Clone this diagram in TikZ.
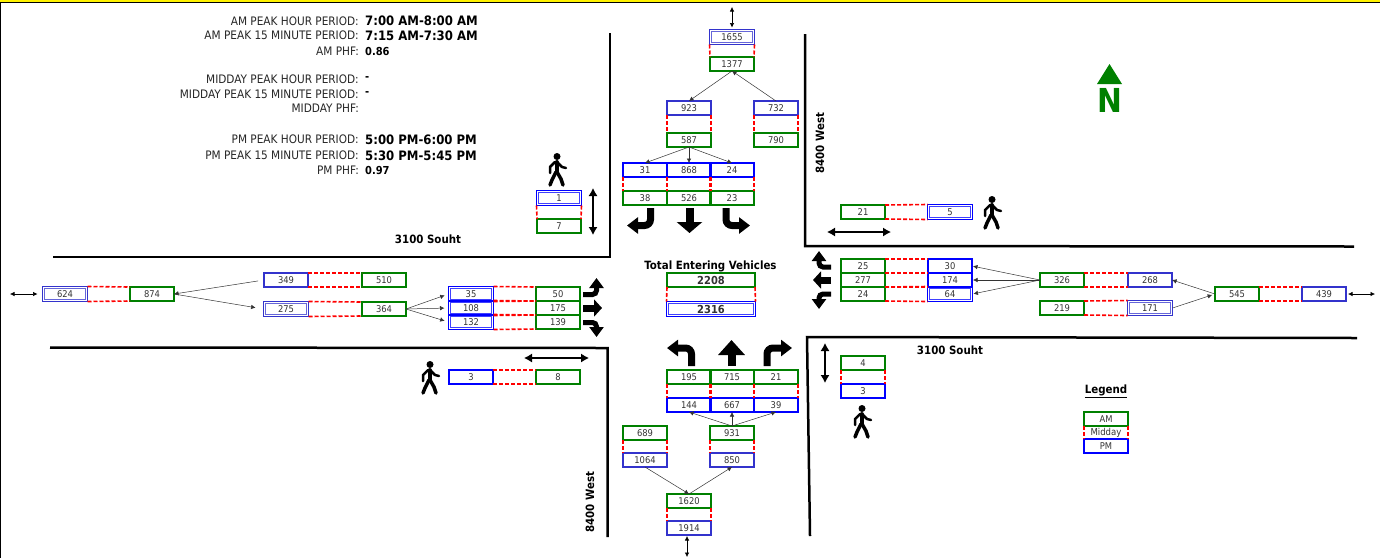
\documentclass[tikz,border=0pt]{standalone}
\usepackage{fontspec}
\setmainfont{DejaVu Sans Condensed}
\usetikzlibrary{arrows.meta}
\definecolor{amgreen}{RGB}{0,128,0}
\definecolor{pmblue}{RGB}{0,0,255}
\definecolor{pmslate}{RGB}{51,51,204}
\tikzset{
  cellbox/.style={rectangle,minimum width=44,minimum height=14,inner sep=0,outer sep=0,font=\fontsize{9.3}{10}\selectfont,text=black!80},
  amcell/.style={cellbox,draw=amgreen,line width=1.6},
  pmcell/.style={cellbox,draw=pmblue,line width=1.6},
  slatecell/.style={cellbox,draw=pmslate,line width=1.6},
  pmdouble/.style={cellbox,minimum width=45,minimum height=15,draw=pmblue,line width=1},
  slatedouble/.style={cellbox,minimum width=45,minimum height=15,draw=pmslate,line width=1},
  innerline/.style={draw=#1!75!white,line width=1},
  midlink/.style={draw=red,line width=1.6,dash pattern=on 4 off 2},
  road/.style={black,line width=2.5},
  flow/.style={black!80,line width=0.5,-{Latex[length=4.5,width=4.5]}},
  bothway/.style={black,line width=0.6,{Latex[length=4.5,width=4.5]}-{Latex[length=4.5,width=4.5]}},
  crossing/.style={black,line width=1.1,{Latex[length=8,width=9]}-{Latex[length=8,width=9]}},
  turn/.style={black,line width=7,rounded corners=6,-{Triangle[length=11,width=16]}},
  sideturn/.style={black,line width=5,rounded corners=4,-{Triangle[length=10,width=14]}},
  sbstraight/.style={black,line width=8,-{Triangle[length=11,width=25]}},
  nbstraight/.style={black,line width=8,-{Triangle[length=15,width=26]}},
  sidestraight/.style={black,line width=7,-{Triangle[length=8,width=17]}},
  labeltext/.style={anchor=east,inner sep=0,font=\fontsize{11.7}{13}\selectfont,text=black!85},
  timetext/.style={anchor=west,inner sep=0,font=\fontsize{13}{14}\selectfont\bfseries},
  phftext/.style={anchor=west,inner sep=0,font=\fontsize{11}{13}\selectfont\bfseries},
  streettext/.style={inner sep=0,font=\fontsize{11.4}{13}\selectfont\bfseries},
}
\begin{document}
\begin{tikzpicture}[x=1pt,y=-1pt]
\useasboundingbox (0,0) rectangle (1380,558);
% page edge
\fill[black] (0,2) rectangle (1380,3);
\fill[yellow] (0,0) rectangle (1380,2);
\fill[black] (0,3) rectangle (1,558);
% roads
\draw[road] (610,33)--(610,257)--(53,257);
\draw[road] (50,347.5)--(607.5,348)--(607.5,537);
\draw[road] (805,34)--(805,246)--(1354,246.5);
\draw[road] (810,536)--(807,337)--(1357,338);
% green cells
\foreach \name/\x/\y/\val in {
  northam/732/64/1377, nwam/689/140/587, neam/776/140/790,
  sbl/645/198/38, sbt/689/198/526, sbr/732/198/23, nwped/559/226/7,
  westam/152/294/874, ebin/384/280/510, ebout/384/309/364,
  ebl/558/294/50, ebt/558/308/175, ebr/558/322/139, swped/558/377/8,
  neped/863/212/21, wbr/863/266/25, wbt/863/280/277, wbl/863/294/24,
  wbout/1062/280/326, wbin/1062/308/219, eastam/1237/294/545,
  nbl/689/377/195, nbt/732/377/715, nbr/776/377/21,
  swam/645/433/689, seam/732/433/931, southam/689/501/1620,
  septam/863/363/4, legam/1106/419/AM}
  \node[amcell] (\name) at (\x,\y) {\val};
% blue cells
\foreach \name/\x/\y/\val in {
  sbl/645/170/31, sbt/689/170/868, sbr/732/170/24,
  nbl/689/405/144, nbt/732/405/667, nbr/776/405/39,
  wbr/950/266/30, wbt/950/280/174, septam/863/391/3, legam/1106/446/PM,
  swped/471/377/3}
  \node[pmcell] (\name pm) at (\x,\y) {\val};
\foreach \name/\x/\y/\val in {
  nw/689/108/923, ne/776/108/732, ebin/286/280/349,
  wbout/1150/280/268, east/1324/294/439,
  sw/645/460/1064, se/732/460/850, south/689/528/1914}
  \node[slatecell] (\name pm) at (\x,\y) {\val};
\foreach \name/\x/\y/\val in {
  nwped/559/198/1, ebl/471/294/35, ebt/471/308/108, ebr/471/322/132,
  neped/950/212/5, wbl/950/294/64}
  \node[pmdouble] (\name pm) at (\x,\y) {\val};
\foreach \name/\x/\y/\val in {
  north/732/37/1655, west/65/294/624, ebout/286/309/275, wbin/1150/308/171}
  \node[slatedouble] (\name pm) at (\x,\y) {\val};
% entering totals
\node[streettext] (totaltitle) at (710.5,266) {Total Entering Vehicles};
\node[amcell,minimum width=88,font=\fontsize{11}{12}\selectfont\bfseries] (totalam) at (711,280) {2208};
\node[pmdouble,minimum width=89,font=\fontsize{11}{12}\selectfont\bfseries] (totalpm) at (711,309) {2316};
% inner line of the double cells
\foreach \cell/\col in {nwpedpm/pmblue, eblpm/pmblue, ebtpm/pmblue, ebrpm/pmblue, nepedpm/pmblue, wblpm/pmblue, totalpm/pmblue,
  northpm/pmslate, westpm/pmslate, eboutpm/pmslate, wbinpm/pmslate}
  \draw[innerline=\col] ([xshift=2,yshift=2]\cell.south west) rectangle ([xshift=-2,yshift=-2]\cell.north east);
% midday links, side by side
\foreach \a/\b in {westpm/westam, ebinpm/ebin, eboutpm/ebout, eblpm/ebl, ebrpm/ebr, swpedpm/swped,
  neped/nepedpm, wbl/wblpm, wbout/wboutpm, wbin/wbinpm, eastam/eastpm, ebtpm/ebt, wbt/wbtpm, wbr/wbrpm} {
  \draw[midlink] (\a.north east)--(\b.north west);
  \draw[midlink] (\a.south east)--(\b.south west);
}
% midday links, one above the other
\foreach \a/\b in {northpm/northam, nwpm/nwam, nepm/neam, sblpm/sbl, sbtpm/sbt, sbrpm/sbr, nwpedpm/nwped,
  nbl/nblpm, nbt/nbtpm, nbr/nbrpm, swam/swpm, seam/sepm, southam/southpm, septam/septampm, legam/legampm, totalam/totalpm} {
  \draw[midlink] (\a.south west)--(\b.north west);
  \draw[midlink] (\a.south east)--(\b.north east);
}
% flows
\draw[flow] (northam.south)--(nwpm.north);
\draw[flow] (nepm.north)--(northam.south);
\draw[flow] (nwam.south)--(sblpm.north);
\draw[flow] (nwam.south)--(sbtpm.north);
\draw[flow] (nwam.south)--(sbrpm.north);
\draw[flow,shorten <=6] (ebinpm.west)--(westam.east);
\draw[flow,shorten >=8] (westam.east)--(eboutpm.west);
\draw[flow,shorten >=4] (ebout.east)--(eblpm.west);
\draw[flow,shorten >=4] (ebout.east)--(ebtpm.west);
\draw[flow,shorten >=4] (ebout.east)--(ebrpm.west);
\draw[flow,shorten >=1] (wbout.west)--(wbrpm.east);
\draw[flow,shorten >=1] (wbout.west)--(wbtpm.east);
\draw[flow,shorten >=1] (wbout.west)--(wblpm.east);
\draw[flow] (eastam.west)--(wboutpm.east);
\draw[flow,shorten >=3] (wbinpm.east)--(eastam.west);
\draw[flow] (seam.north)--(nblpm.south);
\draw[flow] (seam.north)--(nbtpm.south);
\draw[flow] (seam.north)--(nbrpm.south);
\draw[flow] (swpm.south)--(southam.north);
\draw[flow] (southam.north)--(sepm.south);
% two way ends
\coordinate (northend) at (732,7);
\coordinate (westend) at (10,294);
\coordinate (eastend) at (1375,294);
\coordinate (southend) at (687,557);
\draw[bothway,shorten >=2] (northend)--(northpm.north);
\draw[bothway,shorten >=5] (westend)--(westpm.west);
\draw[bothway,shorten >=2] (eastend)--(eastpm.east);
\draw[bothway,shorten >=1] (southend)--(southpm.south -| southend);
% crossings
\coordinate (nwtop) at (593,188);
\coordinate (nwbot) at (593,235);
\coordinate (swleft) at (524,358);
\coordinate (swright) at (589,358);
\coordinate (neleft) at (827,232);
\coordinate (neright) at (891,232);
\coordinate (setop) at (825,343);
\coordinate (sebot) at (825,383);
\draw[crossing] (nwtop)--(nwbot);
\draw[crossing] (swleft)--(swright);
\draw[crossing] (neleft)--(neright);
\draw[crossing] (setop)--(sebot);
% turning movements
\draw[turn] (650.5,208)--(650.5,225.5)--(627,225.5);
\draw[sbstraight] (689.5,208)--(689.5,233);
\draw[turn] (726,208)--(726,225.5)--(750,225.5);
\draw[turn] (691.5,366)--(691.5,348)--(667,348);
\draw[nbstraight] (731.5,366)--(731.5,340);
\draw[turn] (767,366)--(767,348)--(792,348);
\draw[sideturn] (583,294.5)--(596.5,294.5)--(596.5,278);
\draw[sidestraight] (583,308)--(602,308);
\draw[sideturn] (583,322.5)--(596.5,322.5)--(596.5,337);
\draw[sideturn] (831,267)--(819,267)--(819,251);
\draw[sidestraight] (831,280)--(813,280);
\draw[sideturn] (831,294)--(819,294)--(819,309);
% walkers
\foreach \x/\y in {547/153, 982/196, 420/361, 852/405} {
  \begin{scope}[shift={(\x,\y)},line width=4,line cap=round,line join=round,black]
  \fill (10,3.5) circle (3.5);
  \draw (9.5,9)--(9.5,19);
  \draw[line width=2.5] (8,9)--(3,14)--(3,20);
  \draw[line width=2.5] (10,9)--(15,14)--(19,15);
  \draw[line width=3.5] (9,19)--(5,27)--(3,32);
  \draw[line width=3.5] (10,19)--(14,26)--(16,32);
  \end{scope}
}
% north sign
\fill[amgreen] (1109.5,64)--(1122,84)--(1097,84)--cycle;
\node[inner sep=0,text=amgreen,font=\fontsize{33}{33}\selectfont\bfseries] (northsign) at (1110,100) {N};
% streets
\node[streettext] (eaststreet) at (950,350) {3100 Souht};
\node[streettext] (weststreet) at (428,239) {3100 Souht};
\node[streettext,rotate=90] (northstreet) at (820,143) {8400 West};
\node[streettext,rotate=90] (southstreet) at (590,502) {8400 West};
% legend
\node[streettext] (legendtitle) at (1106,391) {\underline{Legend}};
\node[inner sep=0,font=\fontsize{9.5}{10}\selectfont,text=black!80] (legendmid) at (1106,433) {Midday};
% peak hours
\node[labeltext] (amhour) at (359,21) {AM PEAK HOUR PERIOD:};
\node[timetext] (amhourval) at (365,21) {7:00 AM-8:00 AM};
\node[labeltext] (amquart) at (359,35.5) {AM PEAK 15 MINUTE PERIOD:};
\node[timetext] (amquartval) at (365,35.5) {7:15 AM-7:30 AM};
\node[labeltext] (amphf) at (359,51) {AM PHF:};
\node[phftext] (amphfval) at (365,51) {0.86};
\node[labeltext] (midhour) at (359,79) {MIDDAY PEAK HOUR PERIOD:};
\node[phftext] (midhourval) at (365,79) {-};
\node[labeltext] (midquart) at (359,94) {MIDDAY PEAK 15 MINUTE PERIOD:};
\node[phftext] (midquartval) at (365,94) {-};
\node[labeltext] (midphf) at (359,108) {MIDDAY PHF:};
\node[labeltext] (pmhour) at (359,139.5) {PM PEAK HOUR PERIOD:};
\node[timetext] (pmhourval) at (365,139.5) {5:00 PM-6:00 PM};
\node[labeltext] (pmquart) at (359,155.5) {PM PEAK 15 MINUTE PERIOD:};
\node[timetext] (pmquartval) at (365,155.5) {5:30 PM-5:45 PM};
\node[labeltext] (pmphf) at (359,170) {PM PHF:};
\node[phftext] (pmphfval) at (365,170) {0.97};
\end{tikzpicture}
\end{document}
